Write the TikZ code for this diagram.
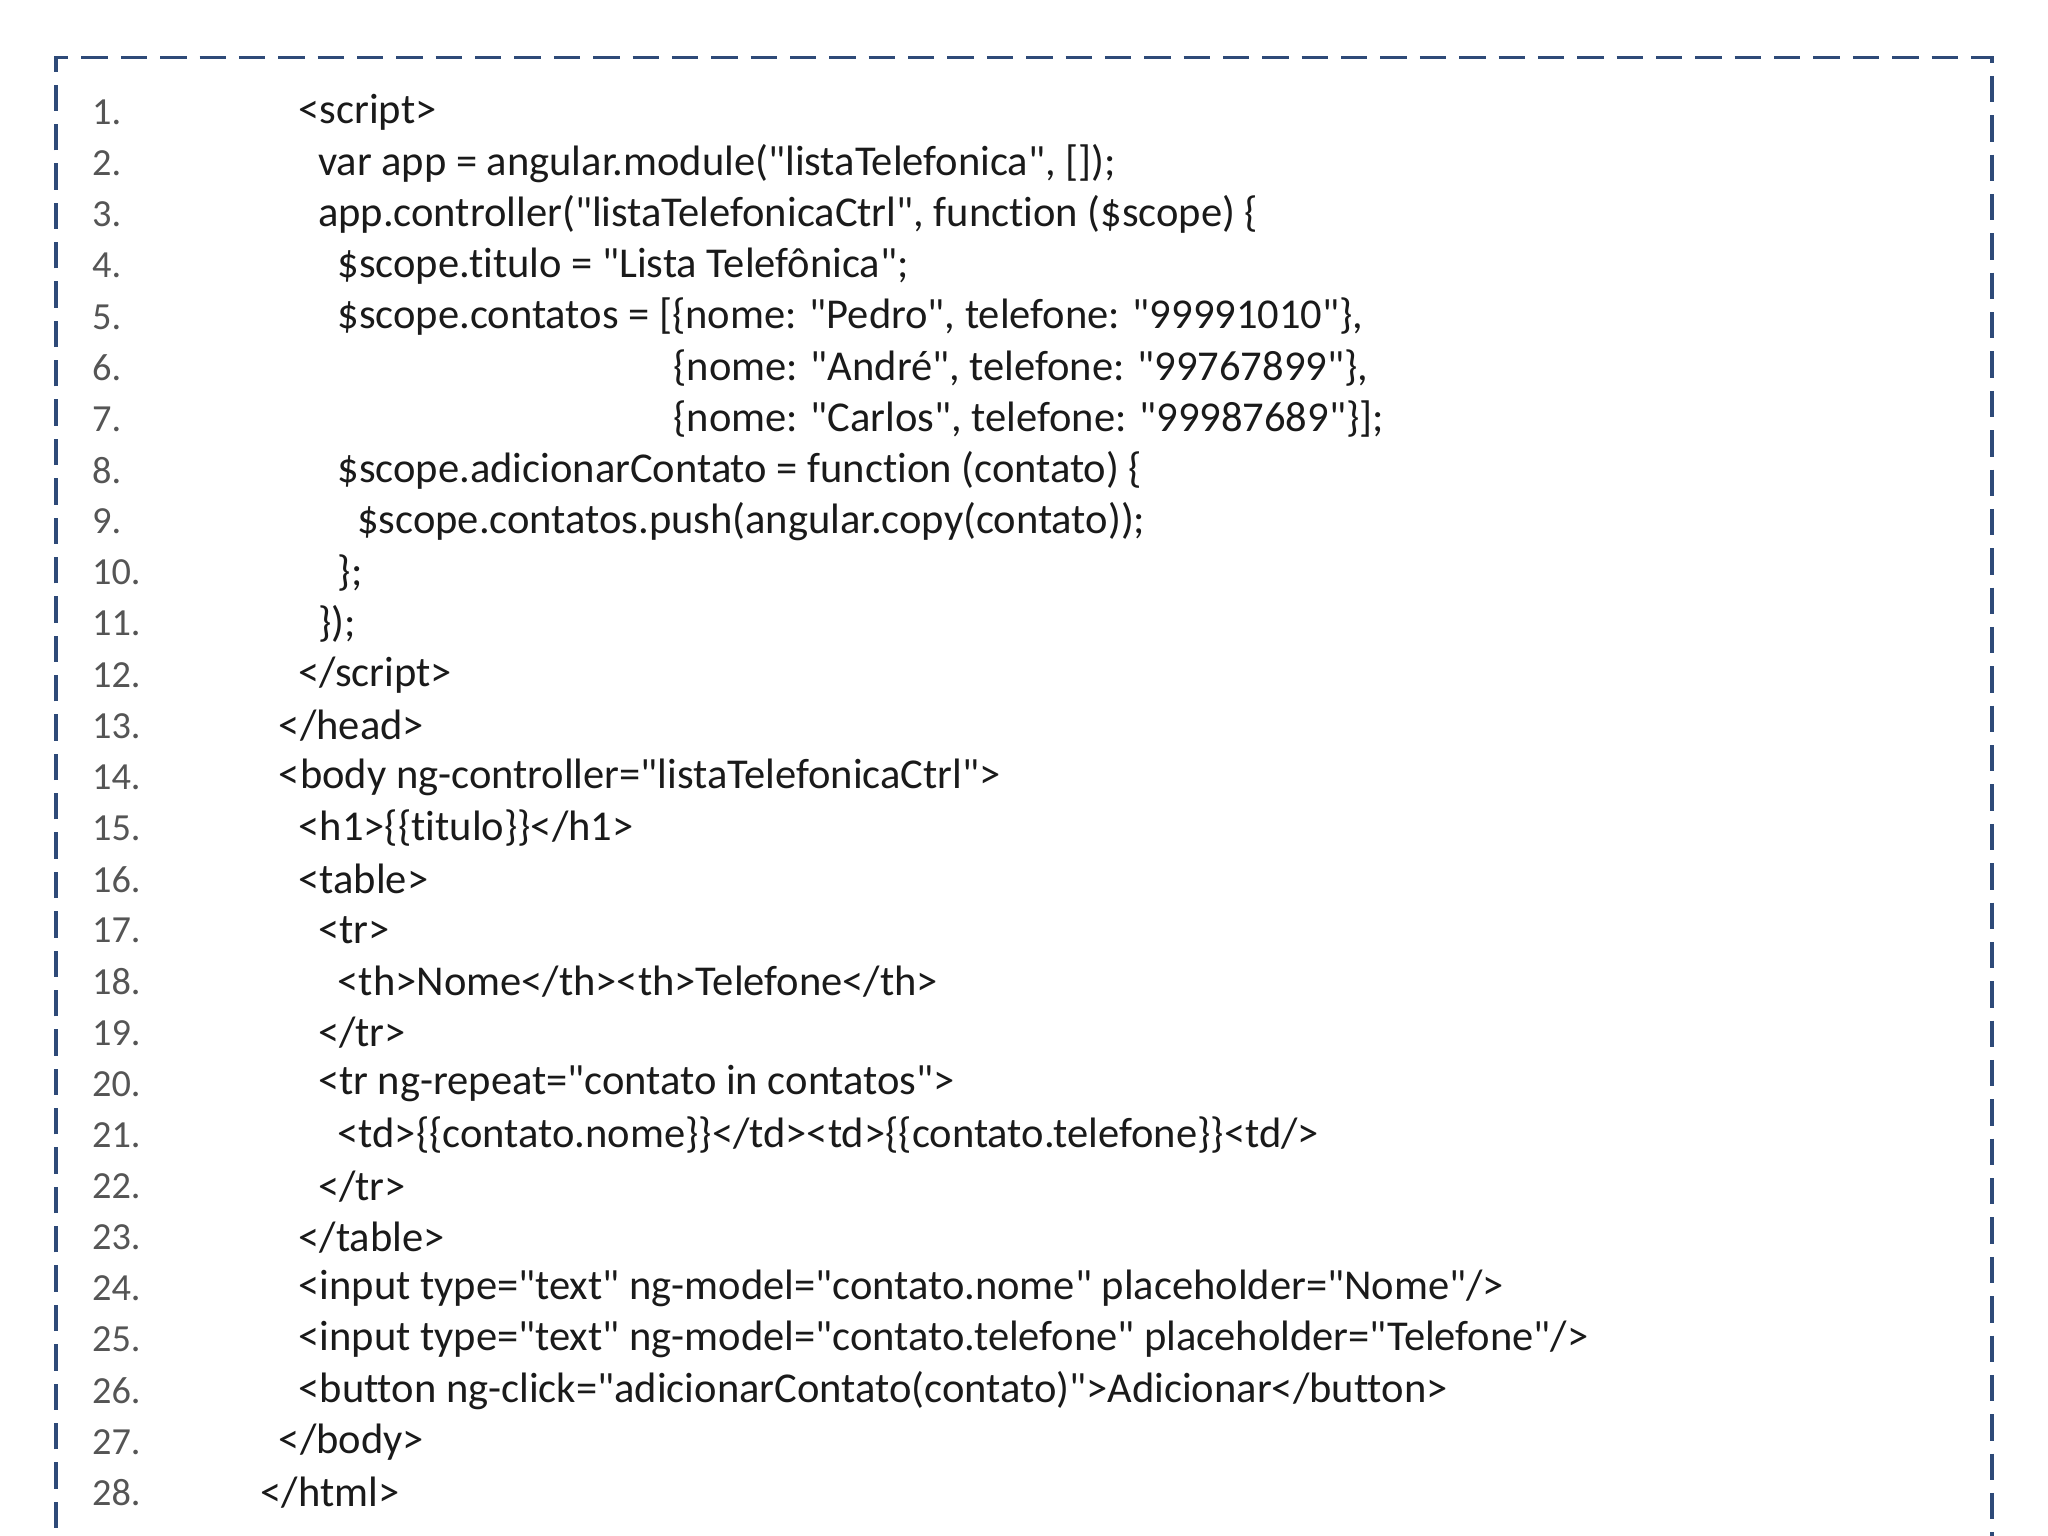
\documentclass[tikz,border=0pt]{standalone}
\usepackage{fontspec}
\newfontfamily\codefont{Carlito}[Ligatures=NoCommon]
\definecolor{frame}{HTML}{2E4A78}
\definecolor{num}{HTML}{555555}
\definecolor{code}{HTML}{1A1A1A}
\begin{document}
\begin{tikzpicture}[x=0.0130612cm,y=-0.0130612cm,
  ln/.style={anchor=west,inner sep=0pt,font=\codefont\fontsize{10.9}{12}\selectfont,text=num},
  cl/.style={anchor=west,inner sep=0pt,font=\codefont\fontsize{12.1}{14}\selectfont,text=code}]
\useasboundingbox (0,0) rectangle (1568,1176);
\draw[frame,line width=1.1pt,dash pattern=on 7.5pt off 3.7pt] (43,1200) -- (43,44) -- (1525,44) -- (1525,1200);
\foreach \i in {1,...,28}{
  \node[ln] (n\i) at (70,{86+(\i-1)*39.15}) {\i.};
}
\newcommand{\codeln}[3]{\node[cl] (c#1) at (#2,{86+(#1-1)*39.15}) {#3};}
\codeln{1}{228}{<script>}
\codeln{2}{243}{var app = angular.module("listaTelefonica", []);}
\codeln{3}{243}{app.controller("listaTelefonicaCtrl", function (\$scope) \{}
\codeln{4}{258}{\$scope.titulo = "Lista Telefônica";}
\codeln{5}{258}{\$scope.contatos = [\{nome: "Pedro", telefone: "99991010"\},}
\codeln{6}{515}{\{nome: "André", telefone: "99767899"\},}
\codeln{7}{515}{\{nome: "Carlos", telefone: "99987689"\}];}
\codeln{8}{258}{\$scope.adicionarContato = function (contato) \{}
\codeln{9}{273}{\$scope.contatos.push(angular.copy(contato));}
\codeln{10}{258}{\};}
\codeln{11}{243}{\});}
\codeln{12}{228}{</script>}
\codeln{13}{213}{</head>}
\codeln{14}{213}{<body ng-controller="listaTelefonicaCtrl">}
\codeln{15}{228}{<h1>\{\{titulo\}\}</h1>}
\codeln{16}{228}{<table>}
\codeln{17}{243}{<tr>}
\codeln{18}{258}{<th>Nome</th><th>Telefone</th>}
\codeln{19}{243}{</tr>}
\codeln{20}{243}{<tr ng-repeat="contato in contatos">}
\codeln{21}{258}{<td>\{\{contato.nome\}\}</td><td>\{\{contato.telefone\}\}<td/>}
\codeln{22}{243}{</tr>}
\codeln{23}{228}{</table>}
\codeln{24}{228}{<input type="text" ng-model="contato.nome" placeholder="Nome"/>}
\codeln{25}{228}{<input type="text" ng-model="contato.telefone" placeholder="Telefone"/>}
\codeln{26}{228}{<button ng-click="adicionarContato(contato)">Adicionar</button>}
\codeln{27}{213}{</body>}
\codeln{28}{199}{</html>}
\end{tikzpicture}
\end{document}
